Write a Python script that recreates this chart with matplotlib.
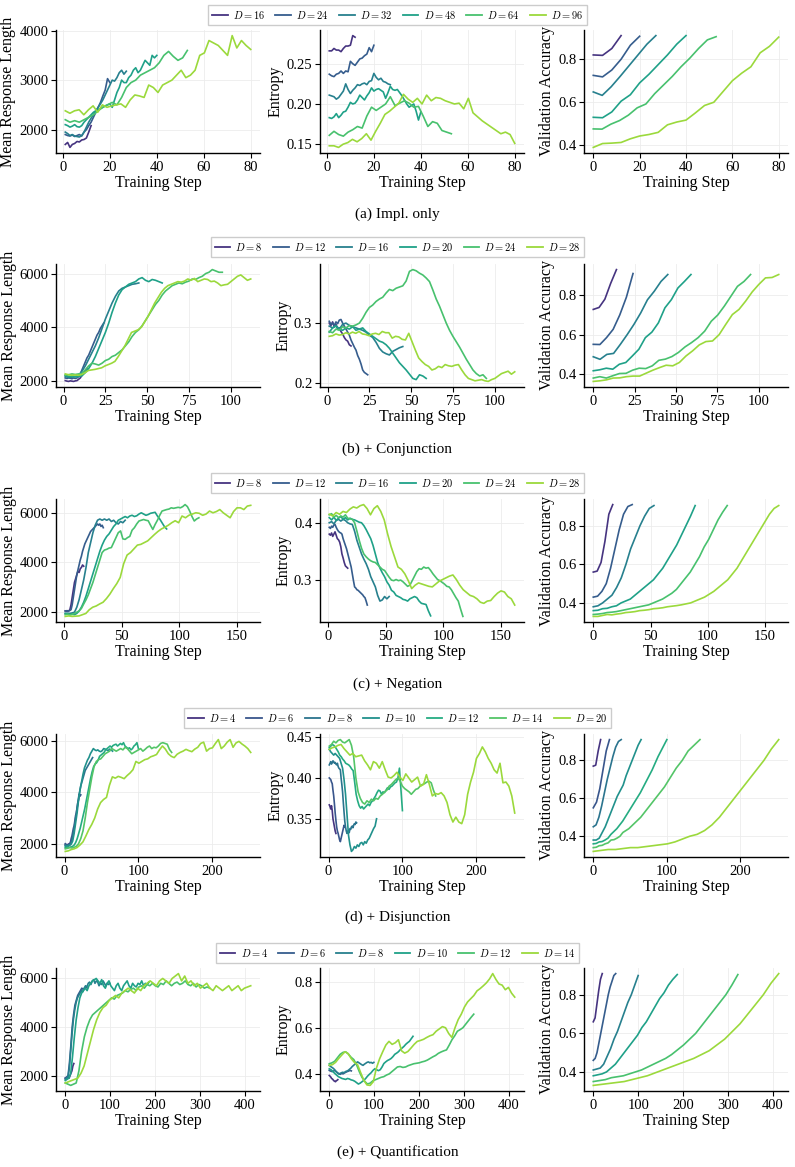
import numpy as np
import matplotlib.pyplot as plt
from matplotlib.ticker import MultipleLocator
from matplotlib.lines import Line2D

plt.rcParams['font.family'] = ['Liberation Serif', 'DejaVu Serif']
plt.rcParams['mathtext.fontset'] = 'cm'

# ---------------- (a) Impl. only ----------------
depth_a = [16, 24, 32, 48, 64, 96]
last_a = [12, 20, 27, 40, 53, 80]
len_a = [
    [1700, 1740, 1640, 1700, 1720, 1760, 1750, 1790, 1800, 1830, 1950, 2080],
    [1900, 1880, 1870, 1890, 1860, 1880, 1900, 1870, 1950, 2000, 2080, 2150, 2250, 2350, 2450, 2550, 2680,
     2800, 3030, 2950],
    [1950, 1920, 1880, 1900, 1870, 1860, 1850, 1880, 1950, 2050, 2150, 2230, 2300, 2380, 2450, 2520, 2600,
     2700, 2800, 2900, 3000, 2980, 3050, 3150, 3200, 3120, 3180],
    [2100, 2080, 2050, 2070, 2100, 2060, 2050, 2080, 2150, 2200, 2250, 2300, 2350, 2380, 2400, 2430, 2450,
     2480, 2500, 2520, 2450, 2600, 2750, 2850, 3000, 2950, 2950, 3050, 3100, 3200, 3250, 3150, 3200, 3300,
     3400, 3350, 3300, 3500, 3450, 3500],
    [2200, 2150, 2180, 2150, 2200, 2250, 2300, 2380, 2450, 2500, 2550, 2500, 2650, 2850, 2950, 3000, 3100,
     3150, 3200, 3250, 3350, 3500, 3580, 3480, 3400, 3450, 3600],
    [2380, 2330, 2380, 2400, 2300, 2400, 2480, 2350, 2500, 2450, 2480, 2500, 2520, 2450, 2600, 2700, 2680,
     2650, 2900, 2850, 2750, 2900, 2950, 3000, 3100, 3200, 3050, 3100, 3200, 3500, 3550, 3800, 3750, 3700,
     3600, 3500, 3900, 3650, 3800, 3700, 3620],
]
ent_a = [
    [0.266, 0.266, 0.269, 0.267, 0.267, 0.265, 0.269, 0.272, 0.272, 0.273, 0.285, 0.283],
    [0.237, 0.235, 0.234, 0.237, 0.238, 0.241, 0.238, 0.241, 0.240, 0.253, 0.250, 0.248, 0.252, 0.256,
     0.257, 0.260, 0.262, 0.270, 0.265, 0.273],
    [0.211, 0.210, 0.209, 0.206, 0.208, 0.212, 0.216, 0.225, 0.218, 0.213, 0.217, 0.220, 0.224, 0.223,
     0.225, 0.226, 0.224, 0.228, 0.229, 0.238, 0.233, 0.230, 0.232, 0.228, 0.227, 0.225, 0.224],
    [0.183, 0.182, 0.184, 0.188, 0.183, 0.186, 0.190, 0.191, 0.196, 0.202, 0.200, 0.201, 0.205, 0.211,
     0.208, 0.205, 0.210, 0.214, 0.220, 0.216, 0.218, 0.219, 0.217, 0.215, 0.207, 0.214, 0.222, 0.218,
     0.217, 0.218, 0.214, 0.210, 0.205, 0.200, 0.196, 0.198, 0.200, 0.191, 0.180, 0.190],
    [0.161, 0.166, 0.162, 0.160, 0.165, 0.168, 0.172, 0.170, 0.185, 0.196, 0.192, 0.196, 0.200, 0.209,
     0.198, 0.201, 0.204, 0.201, 0.196, 0.197, 0.185, 0.172, 0.178, 0.176, 0.167, 0.165, 0.163],
    [0.148, 0.148, 0.146, 0.150, 0.152, 0.156, 0.153, 0.157, 0.163, 0.155, 0.166, 0.176, 0.187, 0.191,
     0.196, 0.201, 0.212, 0.206, 0.202, 0.207, 0.200, 0.211, 0.204, 0.208, 0.207, 0.204, 0.202, 0.200,
     0.201, 0.194, 0.207, 0.189, 0.184, 0.179, 0.175, 0.171, 0.167, 0.163, 0.165, 0.162, 0.151],
]
acc_a = [
    [0.82, 0.818, 0.85, 0.91],
    [0.725, 0.718, 0.75, 0.80, 0.865, 0.907],
    [0.648, 0.632, 0.672, 0.72, 0.77, 0.82, 0.87, 0.91],
    [0.53, 0.528, 0.555, 0.605, 0.635, 0.69, 0.73, 0.775, 0.82, 0.87, 0.91],
    [0.476, 0.475, 0.498, 0.515, 0.54, 0.574, 0.592, 0.64, 0.68, 0.72, 0.765, 0.805, 0.85, 0.89, 0.905],
    [0.39, 0.408, 0.41, 0.413, 0.43, 0.443, 0.45, 0.46, 0.495, 0.508, 0.517, 0.55, 0.585, 0.6, 0.65, 0.7,
     0.735, 0.765, 0.83, 0.86, 0.903],
]

# ---------------- (b) + Conjunction ----------------
depth_b = [8, 12, 16, 20, 24, 28]
last_b = [14, 24, 45, 59, 95, 112]
len_b = [
    [2000, 1980, 1970, 1990, 1980, 1970, 1990, 2000, 2050, 2100, 2200, 2300, 2380, 2450],
    [2100, 2080, 2100, 2090, 2070, 2100, 2080, 2100, 2150, 2250, 2400, 2550, 2700, 2850, 2950, 3100, 3250,
     3400, 3550, 3700, 3800, 3950, 4050, 4150],
    [2150, 2120, 2130, 2150, 2200, 2350, 2550, 2800, 3050, 3300, 3600, 3950, 4300, 4600, 4900, 5150, 5350,
     5450, 5500, 5550, 5600, 5620, 5650],
    [2200, 2150, 2160, 2140, 2150, 2180, 2300, 2450, 2650, 2900, 3200, 3500, 3800, 4150, 4550, 4900, 5200,
     5400, 5500, 5600, 5650, 5700, 5800, 5850, 5750, 5700, 5780, 5750, 5700, 5650],
    [2200, 2220, 2250, 2230, 2250, 2270, 2400, 2550, 2650, 2620, 2580, 2650, 2750, 2800, 2900, 2950, 3050,
     3150, 3300, 3450, 3650, 3800, 3900, 4050, 4250, 4450, 4650, 4850, 5000, 5200, 5350, 5450, 5550, 5600,
     5650, 5620, 5680, 5720, 5800, 5780, 5850, 5900, 6000, 6050, 6150, 6100, 6050, 6050],
    [2250, 2220, 2200, 2210, 2200, 2230, 2300, 2380, 2400, 2420, 2450, 2480, 2550, 2600, 2650, 2720, 2900,
     3100, 3300, 3550, 3800, 3850, 3900, 4000, 4200, 4400, 4650, 4900, 5100, 5300, 5450, 5550, 5600, 5650,
     5700, 5680, 5720, 5800, 5750, 5820, 5700, 5750, 5800, 5780, 5700, 5720, 5650, 5550, 5580, 5600, 5700,
     5800, 5900, 5950, 5850, 5750, 5800],
]
ent_b = [
    [0.300, 0.296, 0.302, 0.294, 0.298, 0.290, 0.292, 0.286, 0.282, 0.276, 0.272, 0.270, 0.264, 0.262],
    [0.303, 0.298, 0.300, 0.296, 0.302, 0.299, 0.305, 0.306, 0.300, 0.295, 0.290, 0.285, 0.280, 0.272,
     0.266, 0.260, 0.255, 0.246, 0.240, 0.232, 0.222, 0.218, 0.216, 0.214],
    [0.295, 0.292, 0.296, 0.290, 0.298, 0.300, 0.296, 0.294, 0.292, 0.290, 0.288, 0.285, 0.280, 0.276,
     0.268, 0.258, 0.252, 0.249, 0.247, 0.253, 0.256, 0.259, 0.261],
    [0.285, 0.292, 0.295, 0.290, 0.288, 0.292, 0.290, 0.294, 0.288, 0.290, 0.292, 0.286, 0.282, 0.278,
     0.274, 0.270, 0.268, 0.264, 0.258, 0.250, 0.242, 0.234, 0.228, 0.222, 0.215, 0.208, 0.206, 0.214,
     0.212, 0.208],
    [0.286, 0.284, 0.290, 0.288, 0.294, 0.292, 0.296, 0.295, 0.297, 0.300, 0.308, 0.318, 0.326, 0.330,
     0.336, 0.340, 0.343, 0.350, 0.356, 0.354, 0.358, 0.360, 0.362, 0.370, 0.386, 0.389, 0.387, 0.383,
     0.380, 0.375, 0.369, 0.355, 0.340, 0.328, 0.314, 0.300, 0.288, 0.278, 0.269, 0.260, 0.250, 0.240,
     0.231, 0.222, 0.216, 0.212, 0.214, 0.208],
    [0.278, 0.279, 0.282, 0.280, 0.281, 0.284, 0.282, 0.285, 0.283, 0.286, 0.282, 0.281, 0.279, 0.282,
     0.283, 0.281, 0.286, 0.284, 0.284, 0.275, 0.278, 0.277, 0.273, 0.272, 0.283, 0.269, 0.255, 0.242,
     0.236, 0.231, 0.228, 0.222, 0.224, 0.228, 0.226, 0.231, 0.229, 0.228, 0.230, 0.231, 0.222, 0.214,
     0.208, 0.206, 0.204, 0.205, 0.206, 0.204, 0.203, 0.206, 0.208, 0.212, 0.216, 0.218, 0.220, 0.215,
     0.219],
]
acc_b = [
    [0.728, 0.738, 0.78, 0.86, 0.93],
    [0.551, 0.55, 0.585, 0.627, 0.70, 0.79, 0.91],
    [0.488, 0.475, 0.5, 0.505, 0.551, 0.6, 0.652, 0.71, 0.777, 0.82, 0.87, 0.905],
    [0.417, 0.422, 0.43, 0.425, 0.45, 0.459, 0.492, 0.526, 0.585, 0.613, 0.66, 0.736, 0.778, 0.837, 0.87,
     0.905],
    [0.38, 0.387, 0.38, 0.392, 0.403, 0.404, 0.42, 0.43, 0.428, 0.442, 0.47, 0.476, 0.489, 0.51, 0.538,
     0.56, 0.585, 0.618, 0.668, 0.70, 0.745, 0.795, 0.845, 0.87, 0.905],
    [0.363, 0.366, 0.371, 0.38, 0.381, 0.387, 0.39, 0.39, 0.405, 0.42, 0.433, 0.445, 0.442, 0.459, 0.492,
     0.518, 0.548, 0.565, 0.568, 0.60, 0.652, 0.702, 0.728, 0.77, 0.817, 0.855, 0.888, 0.89, 0.905],
]

# ---------------- (c) + Negation ----------------
depth_c = [8, 12, 16, 20, 24, 28]
last_c = [17, 34, 53, 89, 117, 162]
len_c = [
    [2050, 2040, 2060, 2050, 2100, 2300, 2600, 2900, 3200, 3350, 3500, 3650, 3600, 3750, 3800, 3900, 3850],
    [2050, 2060, 2040, 2050, 2070, 2100, 2300, 2600, 2900, 3200, 3500, 3700, 3900, 4100, 4250, 4450, 4600,
     4750, 4850, 4950, 5050, 5150, 5250, 5300, 5350, 5400, 5450, 5500, 5550, 5500, 5550, 5450, 5500, 5400],
    [1950, 1960, 1950, 1970, 2000, 2200, 2500, 2900, 3300, 3800, 4400, 4800, 5200, 5500, 5700, 5750, 5700,
     5750, 5700, 5750, 5650, 5700, 5600, 5550, 5650, 5600, 5700],
    [1950, 1930, 1900, 1920, 1900, 1950, 2050, 2200, 2400, 2650, 2950, 3250, 3550, 3850, 4150, 4450, 4700,
     4900, 5050, 5150, 5300, 5450, 5550, 5700, 5750, 5800, 5850, 5800, 5870, 5900, 5850, 5880, 5950, 6000,
     5950, 5900, 5930, 5980, 6000, 6020, 5870, 5750, 5600, 5450, 5350],
    [1900, 1920, 1900, 1910, 1950, 2000, 2050, 2150, 2330, 2500, 2700, 2950, 3200, 3500, 3800, 4100, 4400,
     4500, 4530, 4580, 4600, 4800, 5000, 5200, 5270, 4950, 4930, 5000, 5050, 5300, 5400, 5550, 5670, 5700,
     5730, 5700, 5680, 5500, 5330, 5530, 5700, 5900, 6070, 6100, 6130, 6150, 6200, 6180, 6200, 6220, 6200,
     6250, 6330, 6250, 6070, 5850, 5670, 5750, 5800],
    [1830, 1850, 1830, 1840, 1850, 1900, 1950, 2100, 2200, 2250, 2330, 2400, 2550, 2730, 2950, 3150, 3400,
     3950, 4300, 4400, 4550, 4700, 4730, 4800, 4870, 5000, 5130, 5250, 5350, 5420, 5500, 5600, 5680, 5600,
     5870, 5800, 5900, 5950, 6000, 5980, 5900, 5950, 6070, 6000, 6050, 6130, 6000, 5900, 5800, 6050, 6200,
     6200, 6130, 6270, 6300],
]
ent_c = [
    [0.380, 0.378, 0.382, 0.376, 0.380, 0.384, 0.378, 0.372, 0.370, 0.366, 0.358, 0.345, 0.338, 0.330,
     0.324, 0.322, 0.320],
    [0.392, 0.390, 0.394, 0.392, 0.396, 0.397, 0.392, 0.388, 0.385, 0.383, 0.382, 0.380, 0.372, 0.366,
     0.360, 0.354, 0.346, 0.338, 0.330, 0.322, 0.310, 0.298, 0.287, 0.285, 0.282, 0.281, 0.279, 0.277,
     0.275, 0.273, 0.270, 0.268, 0.262, 0.255],
    [0.400, 0.402, 0.398, 0.404, 0.406, 0.403, 0.406, 0.404, 0.400, 0.398, 0.397, 0.385, 0.369, 0.357,
     0.345, 0.336, 0.328, 0.318, 0.305, 0.296, 0.287, 0.272, 0.262, 0.264, 0.270, 0.266, 0.270],
    [0.409, 0.405, 0.410, 0.404, 0.408, 0.411, 0.406, 0.409, 0.405, 0.408, 0.406, 0.405, 0.403, 0.401,
     0.400, 0.395, 0.388, 0.380, 0.372, 0.360, 0.345, 0.330, 0.320, 0.312, 0.305, 0.296, 0.290, 0.281,
     0.278, 0.272, 0.270, 0.268, 0.265, 0.264, 0.262, 0.266, 0.268, 0.270, 0.268, 0.262, 0.258, 0.257,
     0.256, 0.245, 0.236],
    [0.414, 0.416, 0.410, 0.413, 0.409, 0.412, 0.410, 0.414, 0.408, 0.407, 0.406, 0.400, 0.385, 0.369,
     0.355, 0.345, 0.340, 0.336, 0.333, 0.331, 0.330, 0.326, 0.322, 0.318, 0.316, 0.310, 0.304, 0.299,
     0.298, 0.300, 0.298, 0.299, 0.296, 0.292, 0.288, 0.290, 0.298, 0.306, 0.314, 0.319, 0.318, 0.322,
     0.320, 0.321, 0.316, 0.310, 0.305, 0.300, 0.298, 0.295, 0.292, 0.288, 0.287, 0.282, 0.275, 0.268,
     0.262, 0.248, 0.235],
    [0.415, 0.412, 0.418, 0.415, 0.420, 0.418, 0.424, 0.428, 0.426, 0.430, 0.432, 0.425, 0.414, 0.425,
     0.430, 0.420, 0.405, 0.380, 0.358, 0.340, 0.322, 0.318, 0.310, 0.298, 0.284, 0.290, 0.294, 0.292,
     0.290, 0.288, 0.287, 0.292, 0.297, 0.300, 0.303, 0.306, 0.308, 0.300, 0.290, 0.282, 0.277, 0.272,
     0.270, 0.266, 0.260, 0.258, 0.262, 0.263, 0.270, 0.276, 0.280, 0.278, 0.270, 0.266, 0.255],
]
acc_c = [
    [0.56, 0.565, 0.61, 0.72, 0.86, 0.91],
    [0.43, 0.435, 0.46, 0.5, 0.58, 0.68, 0.78, 0.86, 0.9, 0.91],
    [0.38, 0.385, 0.40, 0.42, 0.44, 0.48, 0.53, 0.6, 0.68, 0.74, 0.8, 0.85, 0.89, 0.905],
    [0.36, 0.362, 0.37, 0.372, 0.38, 0.385, 0.4, 0.41, 0.42, 0.44, 0.46, 0.48, 0.5, 0.52, 0.55, 0.58,
     0.62, 0.66, 0.7, 0.75, 0.8, 0.85, 0.905],
    [0.34, 0.342, 0.345, 0.35, 0.352, 0.355, 0.36, 0.365, 0.37, 0.375, 0.38, 0.385, 0.39, 0.40, 0.41,
     0.42, 0.435, 0.45, 0.47, 0.5, 0.53, 0.56, 0.6, 0.64, 0.69, 0.73, 0.78, 0.83, 0.87, 0.905],
    [0.33, 0.33, 0.335, 0.34, 0.338, 0.342, 0.345, 0.35, 0.352, 0.355, 0.36, 0.362, 0.365, 0.37, 0.372,
     0.375, 0.38, 0.383, 0.386, 0.39, 0.395, 0.40, 0.41, 0.42, 0.43, 0.445, 0.46, 0.48, 0.50, 0.52, 0.55,
     0.58, 0.62, 0.66, 0.70, 0.74, 0.78, 0.82, 0.86, 0.89, 0.905],
]

# ---------------- (d) + Disjunction ----------------
depth_d = [4, 6, 8, 10, 12, 14, 20]
last_d = [10, 22, 38, 65, 100, 145, 252]
len_d = [
    [1950, 1900, 1950, 1920, 1960, 2000, 1950, 2050, 2100, 2150],
    [2000, 1980, 1950, 1970, 1950, 1960, 1950, 2050, 2200, 2300, 2450, 2600, 2700, 2900, 3100, 3200, 3400,
     3600, 3700, 3930, 3850, 3900],
    [1950, 1930, 1900, 1920, 1950, 1930, 1960, 2000, 2050, 2100, 2250, 2450, 2600, 2800, 3000, 3200, 3400,
     3600, 3800, 3950, 4100, 4250, 4350, 4450, 4550, 4650, 4750, 4850, 4900, 4950, 5000, 5050, 5100, 5150,
     5200, 5250, 5300, 5350],
    [1900, 1920, 1900, 1950, 1980, 2100, 2400, 2800, 3200, 3700, 4100, 4400, 4700, 4950, 5100, 5250, 5350,
     5500, 5600, 5700, 5650, 5620, 5650, 5600, 5580, 5620, 5700, 5680, 5650, 5620, 5680, 5650, 5600],
    [1850, 1870, 1850, 1860, 1880, 1900, 1950, 2050, 2200, 2400, 2600, 2850, 3100, 3350, 3650, 3950, 4250,
     4550, 4800, 5000, 5100, 5150, 5250, 5400, 5450, 5500, 5550, 5650, 5700, 5750, 5800, 5750, 5820, 5850,
     5870, 5800, 5850, 5900, 5850, 5930, 5800, 5750, 5700, 5730, 5650, 5700, 5800, 5850, 5930, 5700],
    [1800, 1820, 1850, 1830, 1860, 1900, 2000, 2200, 2500, 3000, 3600, 4100, 4600, 5000, 5200, 5270, 5300,
     5400, 5500, 5550, 5600, 5700, 5650, 5600, 5650, 5700, 5650, 5750, 5700, 5600, 5500, 5550, 5600, 5650,
     5700, 5600, 5670, 5750, 5800, 5700, 5750, 5730, 5800, 5900, 5930, 5900, 5870, 5670, 5550],
    [1700, 1720, 1770, 1800, 1850, 1950, 2070, 2300, 2550, 2750, 3000, 3350, 3600, 3720, 3800, 4270, 4600,
     4550, 4620, 4580, 4530, 4650, 4750, 4880, 5200, 5130, 5200, 5270, 5300, 5380, 5420, 5470, 5650, 5800,
     5680, 5500, 5400, 5350, 5480, 5550, 5600, 5670, 5620, 5580, 5680, 5750, 5900, 5950, 5600, 5700, 5730,
     5900, 6050, 5700, 5800, 5950, 6050, 5750, 5920, 5980, 5880, 5800, 5700, 5550],
]
ent_d = [
    [0.367, 0.365, 0.362, 0.366, 0.360, 0.350, 0.345, 0.340, 0.335, 0.332],
    [0.400, 0.399, 0.398, 0.395, 0.393, 0.385, 0.378, 0.368, 0.357, 0.348, 0.340, 0.335, 0.332, 0.328,
     0.324, 0.322, 0.326, 0.330, 0.334, 0.338, 0.342, 0.340],
    [0.416, 0.418, 0.420, 0.417, 0.419, 0.421, 0.420, 0.418, 0.419, 0.417, 0.416, 0.418, 0.414, 0.412,
     0.411, 0.410, 0.400, 0.392, 0.383, 0.370, 0.358, 0.347, 0.340, 0.335, 0.332, 0.334, 0.336, 0.333,
     0.338, 0.337, 0.340, 0.341, 0.339, 0.342, 0.344, 0.343, 0.346, 0.345],
    [0.435, 0.432, 0.430, 0.428, 0.430, 0.428, 0.426, 0.424, 0.418, 0.412, 0.398, 0.380, 0.355, 0.330,
     0.318, 0.310, 0.312, 0.316, 0.314, 0.318, 0.316, 0.320, 0.321, 0.318, 0.322, 0.320, 0.324, 0.326,
     0.330, 0.334, 0.338, 0.341, 0.350],
    [0.437, 0.439, 0.441, 0.440, 0.438, 0.435, 0.432, 0.428, 0.426, 0.423, 0.421, 0.418, 0.417, 0.416,
     0.414, 0.411, 0.409, 0.395, 0.380, 0.372, 0.366, 0.363, 0.365, 0.362, 0.364, 0.366, 0.368, 0.366,
     0.370, 0.372, 0.375, 0.378, 0.382, 0.385, 0.384, 0.380, 0.383, 0.382, 0.385, 0.388, 0.386, 0.389,
     0.390, 0.392, 0.394, 0.395, 0.400, 0.412, 0.386, 0.360],
    [0.439, 0.441, 0.445, 0.443, 0.446, 0.447, 0.444, 0.443, 0.445, 0.447, 0.440, 0.426, 0.400, 0.383,
     0.375, 0.370, 0.368, 0.372, 0.370, 0.374, 0.372, 0.375, 0.374, 0.378, 0.380, 0.383, 0.385, 0.390,
     0.392, 0.395, 0.398, 0.400, 0.396, 0.390, 0.387, 0.385, 0.383, 0.380, 0.383, 0.386, 0.387, 0.390,
     0.392, 0.393, 0.395, 0.396, 0.394, 0.385, 0.378],
    [0.435, 0.437, 0.438, 0.440, 0.441, 0.436, 0.432, 0.428, 0.430, 0.426, 0.427, 0.428, 0.421, 0.416,
     0.410, 0.420, 0.418, 0.412, 0.420, 0.410, 0.401, 0.400, 0.403, 0.407, 0.401, 0.397, 0.405, 0.400,
     0.395, 0.398, 0.401, 0.390, 0.392, 0.404, 0.392, 0.378, 0.381, 0.380, 0.382, 0.378, 0.370, 0.355,
     0.346, 0.352, 0.346, 0.344, 0.355, 0.380, 0.395, 0.407, 0.424, 0.430, 0.438, 0.432, 0.424, 0.418,
     0.410, 0.406, 0.418, 0.394, 0.395, 0.390, 0.378, 0.357],
]
acc_d = [
    [0.77, 0.775, 0.85, 0.91],
    [0.55, 0.58, 0.65, 0.75, 0.85, 0.91],
    [0.45, 0.46, 0.5, 0.56, 0.63, 0.7, 0.76, 0.82, 0.87, 0.9, 0.91],
    [0.38, 0.38, 0.39, 0.42, 0.45, 0.49, 0.53, 0.57, 0.61, 0.64, 0.67, 0.72, 0.76, 0.8, 0.84, 0.88, 0.91],
    [0.36, 0.362, 0.37, 0.372, 0.38, 0.39, 0.41, 0.425, 0.44, 0.46, 0.48, 0.505, 0.53, 0.555, 0.58, 0.605,
     0.63, 0.66, 0.69, 0.72, 0.75, 0.785, 0.82, 0.85, 0.88, 0.91],
    [0.34, 0.342, 0.35, 0.352, 0.36, 0.365, 0.38, 0.382, 0.39, 0.40, 0.42, 0.43, 0.44, 0.455, 0.47, 0.485,
     0.50, 0.52, 0.54, 0.56, 0.58, 0.60, 0.62, 0.64, 0.66, 0.685, 0.71, 0.735, 0.76, 0.78, 0.80, 0.825,
     0.85, 0.865, 0.88, 0.895, 0.91],
    [0.32, 0.325, 0.33, 0.33, 0.335, 0.34, 0.34, 0.345, 0.35, 0.355, 0.36, 0.37, 0.385, 0.40, 0.41, 0.43,
     0.46, 0.50, 0.55, 0.60, 0.65, 0.70, 0.75, 0.80, 0.86, 0.91],
]

# ---------------- (e) + Quantification ----------------
depth_e = [4, 6, 8, 10, 12, 14]
last_e = [20, 50, 100, 187, 322, 413]
len_e = [
    [1900, 1850, 1900, 1950, 1900, 2000, 2100, 2200, 2400, 2500],
    [1900, 1950, 2000, 2500, 3200, 4000, 4500, 4900, 5100, 5300, 5400, 5500, 5600, 5550, 5600, 5650, 5600],
    [1850, 1900, 1950, 2300, 3000, 3700, 4300, 4700, 5000, 5200, 5300, 5400, 5500, 5450, 5600, 5700, 5650,
     5800, 5850, 5750, 5900, 5950, 5800, 5900, 5850, 5700, 5800, 5750, 5900, 5800, 5700, 5800, 5750, 5800],
    [1800, 1850, 1900, 2100, 2800, 3600, 4300, 4800, 5200, 5400, 5500, 5600, 5500, 5700, 5800, 5900, 5950,
     6000, 5900, 5800, 5950, 5700, 5600, 5800, 5900, 5700, 5600, 5500, 5700, 5800, 5600, 5500, 5700, 5800,
     5900, 5700, 5600, 5800, 5700, 5650, 5800, 5750, 5900, 5700, 5800, 5750, 5850],
    [1700, 1650, 1600, 1650, 1700, 2200, 3000, 3600, 4000, 4300, 4500, 4600, 4700, 4800, 4900, 5000, 5100,
     5200, 5150, 5300, 5350, 5400, 5500, 5450, 5550, 5600, 5500, 5650, 5700, 5600, 5750, 5700, 5800, 5700,
     5650, 5800, 5750, 5900, 5800, 5700, 5800, 5850, 5750, 5800, 5900, 5750, 5700, 5800, 5650, 5750, 5700,
     5600, 5650, 5600],
    [1700, 1750, 1800, 1850, 1900, 2100, 2400, 2900, 3400, 3900, 4300, 4600, 4800, 4900, 5100, 5200, 5300,
     5200, 5400, 5500, 5600, 5500, 5400, 5600, 5500, 5700, 5800, 5900, 5800, 5700, 5900, 6000, 5900, 5800,
     6000, 6100, 6200, 5900, 6100, 5800, 5900, 5700, 5800, 5600, 5700, 5800, 5600, 5500, 5700, 5600, 5500,
     5600, 5700, 5500, 5600, 5700, 5500, 5600, 5650, 5700],
]
ent_e = [
    [0.393, 0.390, 0.386, 0.380, 0.378, 0.374, 0.370, 0.368, 0.366, 0.370, 0.372, 0.375],
    [0.415, 0.412, 0.410, 0.412, 0.415, 0.410, 0.405, 0.400, 0.398, 0.402, 0.400, 0.404, 0.407, 0.410,
     0.412, 0.415, 0.413],
    [0.437, 0.432, 0.428, 0.424, 0.418, 0.410, 0.404, 0.400, 0.402, 0.405, 0.407, 0.405, 0.410, 0.412,
     0.415, 0.420, 0.425, 0.432, 0.437, 0.442, 0.448, 0.452, 0.448, 0.444, 0.440, 0.437, 0.442, 0.446,
     0.450, 0.452, 0.448, 0.450, 0.446, 0.450],
    [0.422, 0.418, 0.410, 0.402, 0.395, 0.388, 0.384, 0.380, 0.378, 0.376, 0.380, 0.378, 0.374, 0.372,
     0.368, 0.362, 0.356, 0.360, 0.366, 0.372, 0.380, 0.390, 0.398, 0.405, 0.415, 0.422, 0.418, 0.414,
     0.418, 0.430, 0.445, 0.452, 0.458, 0.462, 0.467, 0.475, 0.485, 0.490, 0.496, 0.505, 0.512, 0.519,
     0.528, 0.535, 0.541, 0.552, 0.563],
    [0.444, 0.448, 0.455, 0.470, 0.485, 0.493, 0.496, 0.486, 0.472, 0.462, 0.440, 0.410, 0.385, 0.368,
     0.356, 0.360, 0.370, 0.375, 0.380, 0.385, 0.388, 0.395, 0.400, 0.410, 0.420, 0.430, 0.432, 0.428,
     0.430, 0.436, 0.440, 0.444, 0.446, 0.448, 0.452, 0.455, 0.460, 0.467, 0.474, 0.480, 0.489, 0.495,
     0.500, 0.504, 0.525, 0.548, 0.565, 0.585, 0.592, 0.600, 0.615, 0.630, 0.645, 0.659],
    [0.437, 0.440, 0.450, 0.467, 0.482, 0.496, 0.488, 0.466, 0.450, 0.440, 0.405, 0.372, 0.352, 0.350,
     0.366, 0.425, 0.465, 0.496, 0.525, 0.541, 0.528, 0.535, 0.548, 0.500, 0.490, 0.497, 0.512, 0.528,
     0.541, 0.545, 0.550, 0.558, 0.565, 0.570, 0.585, 0.595, 0.605, 0.600, 0.575, 0.558, 0.600, 0.635,
     0.659, 0.690, 0.712, 0.726, 0.740, 0.760, 0.770, 0.782, 0.795, 0.812, 0.835, 0.810, 0.790, 0.785,
     0.765, 0.775, 0.750, 0.733],
]
acc_e = [
    [0.66, 0.68, 0.75, 0.82, 0.88, 0.91],
    [0.46, 0.47, 0.5, 0.55, 0.6, 0.65, 0.7, 0.75, 0.8, 0.84, 0.87, 0.9, 0.91],
    [0.41, 0.415, 0.42, 0.44, 0.48, 0.52, 0.57, 0.61, 0.66, 0.71, 0.76, 0.8, 0.85, 0.9],
    [0.38, 0.385, 0.39, 0.40, 0.42, 0.44, 0.47, 0.50, 0.53, 0.56, 0.59, 0.63, 0.66, 0.70, 0.74, 0.78, 0.81,
     0.85, 0.88, 0.905],
    [0.35, 0.355, 0.36, 0.37, 0.375, 0.38, 0.39, 0.40, 0.41, 0.425, 0.44, 0.455, 0.47, 0.49, 0.515, 0.54,
     0.57, 0.6, 0.64, 0.68, 0.72, 0.76, 0.8, 0.85, 0.905],
    [0.33, 0.335, 0.34, 0.345, 0.35, 0.36, 0.37, 0.38, 0.395, 0.41, 0.425, 0.44, 0.455, 0.47, 0.49, 0.51,
     0.54, 0.57, 0.61, 0.65, 0.7, 0.75, 0.8, 0.86, 0.91],
]

rows = [
    ('(a) Impl. only', depth_a, last_a, len_a, ent_a, acc_a, 20, 1000, 0.05),
    ('(b) + Conjunction', depth_b, last_b, len_b, ent_b, acc_b, 25, 2000, 0.1),
    ('(c) + Negation', depth_c, last_c, len_c, ent_c, acc_c, 50, 2000, 0.1),
    ('(d) + Disjunction', depth_d, last_d, len_d, ent_d, acc_d, 100, 2000, 0.05),
    ('(e) + Quantification', depth_e, last_e, len_e, ent_e, acc_e, 100, 2000, 0.2),
]

fig = plt.figure(figsize=(7.95, 11.67), dpi=100)

lefts = [56 / 795, 320 / 795, 584 / 795]
width = 204 / 795
height = 123 / 1167
bottoms = [1 - 153 / 1167, 1 - 387 / 1167, 1 - 622 / 1167, 1 - 857 / 1167, 1 - 1091 / 1167]
legend_y = [1 - 15 / 1167, 1 - 247 / 1167, 1 - 483 / 1167, 1 - 718 / 1167, 1 - 953 / 1167]
caption_y = [1 - 214 / 1167, 1 - 449 / 1167, 1 - 684 / 1167, 1 - 917 / 1167, 1 - 1152 / 1167]
ylabels = ['Mean Response Length', 'Entropy', 'Validation Accuracy']

for r, (caption, depths, lasts, lens, ents, accs, xstep, lstep, estep) in enumerate(rows):
    colors = plt.cm.viridis(np.linspace(0.15, 0.85, len(depths)))
    axes = [fig.add_axes([lefts[j], bottoms[r], width, height]) for j in range(3)]
    for k in range(len(depths)):
        last = lasts[k]
        axes[0].plot(np.linspace(1, last, len(lens[k])), lens[k], color=colors[k], lw=1.2)
        axes[1].plot(np.linspace(1, last, len(ents[k])), ents[k], color=colors[k], lw=1.2)
        axes[2].plot(np.linspace(0, last, len(accs[k])), accs[k], color=colors[k], lw=1.2)
    ysteps = [lstep, estep, 0.2]
    for j, ax in enumerate(axes):
        ax.xaxis.set_major_locator(MultipleLocator(xstep))
        ax.yaxis.set_major_locator(MultipleLocator(ysteps[j]))
        ax.grid(color='#ececec', linewidth=0.6)
        ax.set_axisbelow(True)
        for s in ['top', 'right']:
            ax.spines[s].set_visible(False)
        for s in ['left', 'bottom']:
            ax.spines[s].set_linewidth(1.0)
        ax.tick_params(direction='out', length=3.5, width=0.8, labelsize=10.5, pad=2)
        ax.set_xlabel('Training Step', fontsize=11.5, labelpad=1)
        ax.set_ylabel(ylabels[j], fontsize=11.5, labelpad=2)

    handles = [Line2D([], [], color=colors[k], lw=1.3) for k in range(len(depths))]
    labels = [r'$D=%d$' % d for d in depths]
    fig.legend(handles, labels, loc='center', bbox_to_anchor=(0.5, legend_y[r]), ncol=len(depths),
               fontsize=7.5, handlelength=1.5, handletextpad=0.5, columnspacing=1.0,
               frameon=True, fancybox=False, edgecolor='#cccccc', borderpad=0.35, framealpha=1)
    fig.text(0.5, caption_y[r], caption, ha='center', va='center', fontsize=11)

fig.savefig('out.png', dpi=100)
